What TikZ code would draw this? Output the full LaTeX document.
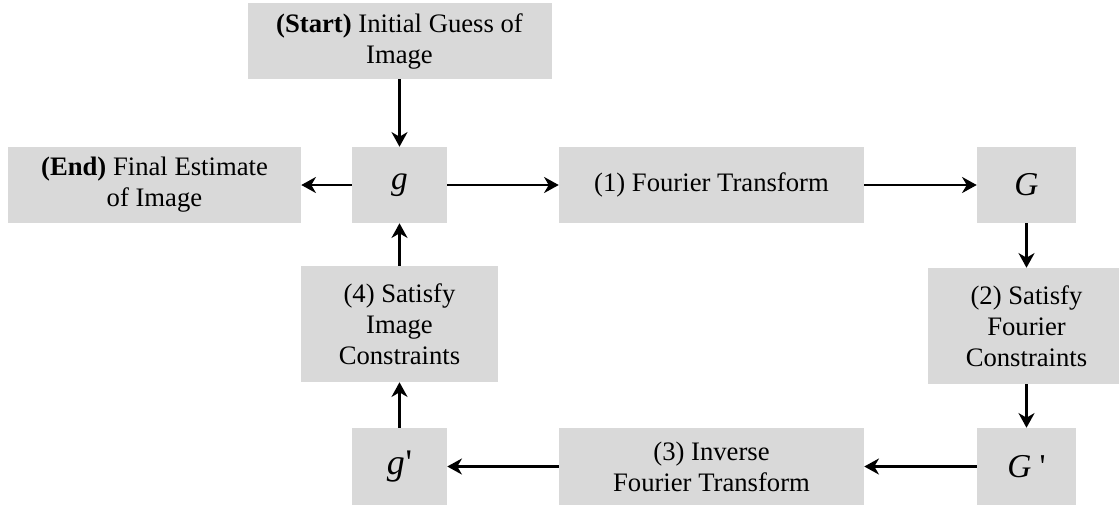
\documentclass[tikz,border=0pt]{standalone}
\usepackage{fontspec}
\setmainfont{LiberationSerif}[Extension=.ttf, UprightFont=*-Regular, BoldFont=*-Bold, ItalicFont=*-Italic, BoldItalicFont=*-BoldItalic]
\usetikzlibrary{arrows.meta}
\definecolor{boxgray}{RGB}{217,217,217}
\begin{document}
\begin{tikzpicture}[x=0.75pt,y=-0.75pt,
  box/.style={fill=boxgray, draw=none, inner sep=0pt, align=center,
    font=\rmfamily\fontsize{20}{23.25}\selectfont},
  sym/.style={box, font=\rmfamily\fontsize{25}{28}\selectfont},
  arr/.style={draw=black, line width=2pt, -{Stealth[length=11pt,width=12pt,inset=3.5pt]}}]
\useasboundingbox (0,0) rectangle (1119,508);
\node[box, minimum width=228pt, minimum height=57pt] (start) at (399.5,41) {\textbf{(Start)} Initial Guess of\\Image};
\node[box, minimum width=219.75pt, minimum height=57pt] (end) at (154.5,185) {\textbf{(End)} Final Estimate\\of Image};
\node[sym, minimum width=71.25pt, minimum height=57pt] (g) at (399.5,185) {\itshape g};
\node[box, minimum width=228.75pt, minimum height=57pt] (ft) at (711.5,185) {(1) Fourier Transform};
\node[sym, minimum width=74.25pt, minimum height=57pt] (G) at (1026.5,185) {\itshape G};
\node[box, minimum width=147.75pt, minimum height=87pt] (sfc) at (1026.5,326) {(2) Satisfy\\Fourier\\Constraints};
\node[box, minimum width=147.75pt, minimum height=87pt] (sic) at (399.5,324) {(4) Satisfy\\Image\\Constraints};
\node[sym, minimum width=71.25pt, minimum height=57.75pt, font=\rmfamily\fontsize{27}{30}\selectfont] (gp) at (399.5,466.5) {{\itshape g}\kern0.5pt\textquotesingle};
\node[box, minimum width=228.75pt, minimum height=57.75pt] (ift) at (711.5,466.5) {(3) Inverse\\Fourier Transform};
\node[sym, minimum width=74.25pt, minimum height=57.75pt] (Gp) at (1026.5,466.5) {{\itshape G} \textquotesingle};
\draw[arr] (start) -- (g);
\draw[arr] (g) -- (end);
\draw[arr] (g) -- (ft);
\draw[arr] (ft) -- (G);
\draw[arr] (G) -- (sfc);
\draw[arr] (sfc) -- (Gp);
\draw[arr] (Gp) -- (ift);
\draw[arr] (ift) -- (gp);
\draw[arr] (gp) -- (sic);
\draw[arr] (sic) -- (g);
\end{tikzpicture}
\end{document}
